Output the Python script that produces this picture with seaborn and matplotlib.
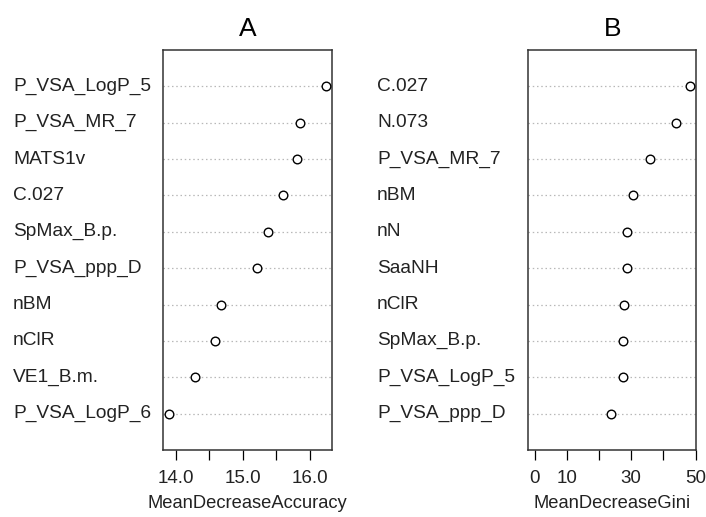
import matplotlib
matplotlib.use("Agg")
import matplotlib.pyplot as plt
import seaborn as sns
import pandas as pd

# Variable importance from the random forest, top 10 per measure (top to bottom)
acc_features = ["P_VSA_LogP_5", "P_VSA_MR_7", "MATS1v", "C.027", "SpMax_B.p.",
                "P_VSA_ppp_D", "nBM", "nClR", "VE1_B.m.", "P_VSA_LogP_6"]
acc_values = [16.24, 15.85, 15.81, 15.60, 15.37, 15.21, 14.68, 14.58, 14.29, 13.90]

gini_features = ["C.027", "N.073", "P_VSA_MR_7", "nBM", "nN", "SaaNH", "nClR",
                 "SpMax_B.p.", "P_VSA_LogP_5", "P_VSA_ppp_D"]
gini_values = [48.4, 43.8, 35.8, 30.6, 28.8, 28.8, 27.7, 27.4, 27.4, 23.6]

acc_ticks = [14.0, 14.5, 15.0, 15.5, 16.0]
acc_ticklabels = ["14.0", "", "15.0", "", "16.0"]
gini_ticks = [0, 10, 20, 30, 40, 50]
gini_ticklabels = ["0", "10", "", "30", "", "50"]

sns.set_theme(style="white")
plt.rcParams["font.family"] = ["Liberation Sans", "DejaVu Sans"]

fig = plt.figure(figsize=(7.06, 5.17), dpi=100)
ax_a = fig.add_axes([0.2309, 0.1296, 0.2394, 0.7737])
ax_b = fig.add_axes([0.7483, 0.1296, 0.2382, 0.7737])


def dotchart(ax, features, values, xlim, ticks, ticklabels, xlabel, title, label_x):
    df = pd.DataFrame({"feature": features, "value": values})
    n = len(features)
    for i in range(n):
        ax.axhline(i, color="#b8b8b8", lw=0.9, ls=(0, (1.2, 2.2)), zorder=1)
    sns.stripplot(data=df, x="value", y="feature", order=features, jitter=False,
                  ax=ax, marker="o", size=6.2, color="white", edgecolor="black",
                  linewidth=1.0, zorder=3)
    ax.set_ylim(n, -1)
    ax.set_xlim(*xlim)
    ax.set_xticks(ticks)
    ax.set_xticklabels(ticklabels)
    ax.tick_params(axis="x", direction="out", length=7.5, width=0.9, color="black",
                   labelsize=13.5, pad=7, bottom=True, labelcolor="#222222")
    ax.tick_params(axis="y", left=False, labelleft=False)
    ax.set_ylabel("")
    ax.set_xlabel(xlabel, fontsize=13.2, labelpad=6, color="#222222")
    for s in ax.spines.values():
        s.set_visible(True)
        s.set_color("#333333")
        s.set_linewidth(1.1)
    # left-aligned row labels in the margin
    for i, name in enumerate(features):
        ax.text(label_x, i, name, transform=ax.get_yaxis_transform(),
                ha="left", va="center", fontsize=13.8, color="#222222")
    ax.set_title(title, fontsize=19, pad=10, color="black")


def frac_x(ax, px):
    # figure pixel -> axes x fraction
    pos = ax.get_position()
    return (px / 706 - pos.x0) / pos.width


dotchart(ax_a, acc_features, acc_values, (13.806, 16.334), acc_ticks, acc_ticklabels,
         "MeanDecreaseAccuracy", "A", frac_x(ax_a, 13))
dotchart(ax_b, gini_features, gini_values, (-1.94, 50.3), gini_ticks, gini_ticklabels,
         "MeanDecreaseGini", "B", frac_x(ax_b, 377))

fig.savefig("out.png", dpi=100, facecolor="white")
